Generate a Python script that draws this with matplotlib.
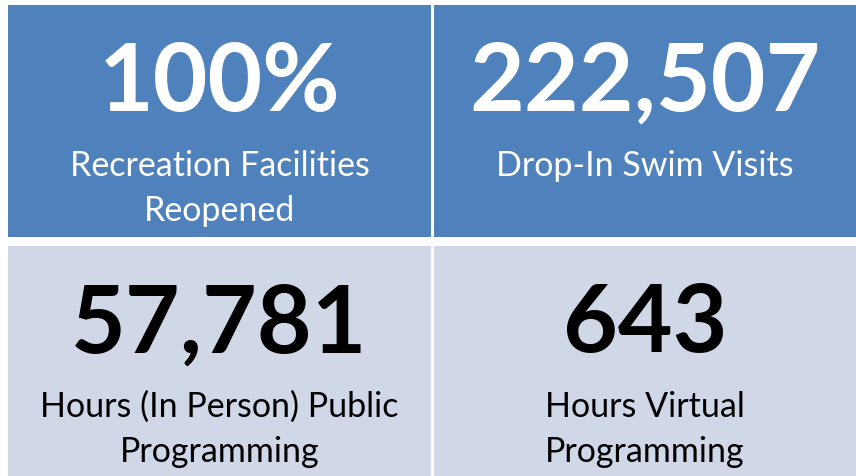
import matplotlib.pyplot as plt
from matplotlib.patches import Rectangle

# tile contents, row by row
values = ["100%", "222,507", "57,781", "643"]
captions = [
    ["Recreation Facilities", "Reopened"],
    ["Drop-In Swim Visits"],
    ["Hours (In Person) Public", "Programming"],
    ["Hours Virtual", "Programming"],
]

W, H = 856, 476
BLUE = "#4F81BD"
LIGHT = "#D0D8E8"

# tile boxes in pixel space: (x0, x1, y0, y1)
cols = [(8, 431), (434, 856)]
rows = [(5, 237), (246, 476)]
row_style = [(BLUE, "white"), (LIGHT, "black")]

FONT = "Lato"

fig = plt.figure(figsize=(W / 100, H / 100), dpi=100)
ax = fig.add_axes([0, 0, 1, 1])
ax.set_xlim(0, W)
ax.set_ylim(H, 0)
ax.axis("off")

for i, (val, cap) in enumerate(zip(values, captions)):
    r, c = divmod(i, 2)
    x0, x1 = cols[c]
    y0, y1 = rows[r]
    face, txt = row_style[r]
    ax.add_patch(Rectangle((x0, y0), x1 - x0, y1 - y0, facecolor=face, edgecolor="none"))
    cx = (x0 + x1) / 2
    ax.text(cx, y0 + 106, val, ha="center", va="baseline", color=txt,
            fontsize=68, fontweight="bold", family=FONT)
    for k, line in enumerate(cap):
        ax.text(cx, y0 + 171 + 45 * k, line, ha="center", va="baseline", color=txt,
                fontsize=24.5, family=FONT)

fig.savefig("out.png", dpi=100, facecolor="white")
